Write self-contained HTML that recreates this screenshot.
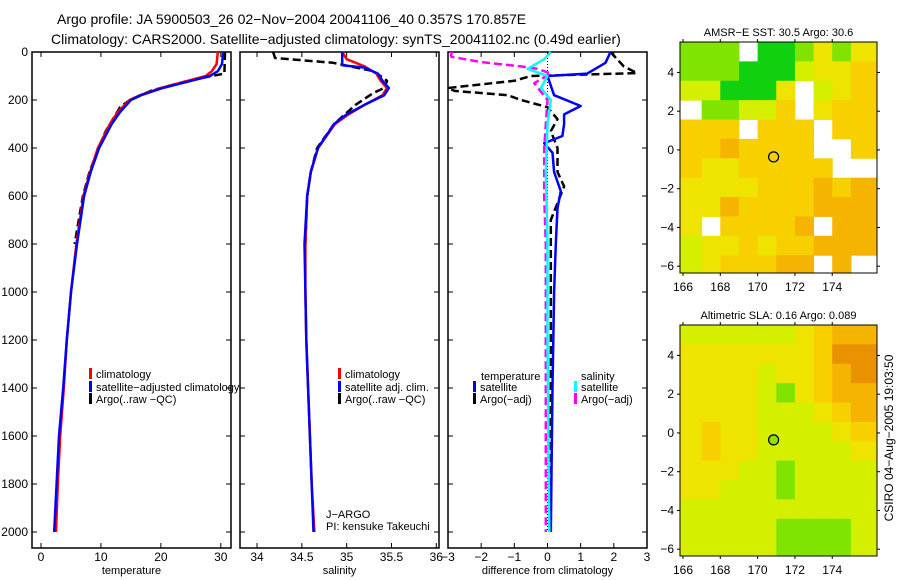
<!DOCTYPE html>
<html><head><meta charset="utf-8"><style>
html,body{margin:0;padding:0;background:#fff;}
svg{display:block;font-family:"Liberation Sans",sans-serif;}
</style></head><body>
<svg id="fig" width="900" height="580" viewBox="0 0 900 580" xmlns="http://www.w3.org/2000/svg">
<text x="57" y="24" font-size="14">Argo profile: JA 5900503_26 02−Nov−2004 20041106_40 0.357S 170.857E</text>
<text x="51" y="44" font-size="14">Climatology: CARS2000. Satellite−adjusted climatology: synTS_20041102.nc (0.49d earlier)</text>
<g id="plots"></g>
<text transform="translate(893,438) rotate(-90)" font-size="12" text-anchor="middle">CSIRO 04−Aug−2005 19:03:50</text>
</svg>
<script>
// ---------- data ----------
const depthTicks=[0,200,400,600,800,1000,1200,1400,1600,1800,2000];
const tempTicks=[0,10,20,30];
const salTicks=[34,34.5,35,35.5,36];
const diffTicks=[-3,-2,-1,0,1,2,3];
const lonTicks=[166,168,170,172,174];
const latTicks=[4,2,0,-2,-4,-6];

const tClimDepth=[0,50,80,100,130,150,180,200,250,300,400,500,600,800,1000,1200,1400,1600,1800,2000];
const tClim=[29.5,29.3,28.5,27.5,23,20,16.5,14.8,12.8,11.5,9.5,8.2,7.1,5.9,5.0,4.3,3.8,3.2,2.8,2.5];
const tSatDepth=[0,50,80,100,130,150,180,200,250,300,400,500,600,800,1000,1200,1400,1600,1800,2000];
const tSat=[30.4,30.2,29.5,28.2,23.5,20.3,16.7,15.0,13.2,11.8,9.7,8.3,7.2,6.0,5.0,4.3,3.7,3.0,2.6,2.2];
const tArgoDepth=[0,90,100,120,160,200,230,280,330,400,500,600,800];
const tArgo=[30.7,30.6,28.5,24.5,18.5,14.8,13.2,12.0,10.8,9.6,8.1,7.0,5.6];

const sClimDepth=[0,30,60,90,120,150,180,220,260,300,400,500,600,800,1000,1200,1400,1600,1800,2000];
const sClim=[34.95,35.0,35.2,35.33,35.38,35.45,35.4,35.2,35.02,34.87,34.68,34.6,34.56,34.54,34.54,34.55,34.57,34.59,34.61,34.64];
const sSatDepth=[0,55,65,90,120,150,180,220,260,300,400,500,600,800,1000,1200,1400,1600,1800,2000];
const sSat=[34.95,34.95,35.2,35.35,35.4,35.47,35.42,35.2,35.0,34.86,34.68,34.6,34.56,34.53,34.54,34.55,34.57,34.59,34.61,34.63];
const sArgoDepth=[0,25,45,80,120,150,170,190,220,260,300,400,500,600,800];
const sArgo=[34.18,34.2,34.85,35.3,35.45,35.42,35.3,35.22,35.1,34.98,34.86,34.67,34.6,34.56,34.54];

const dTSatDepth=[0,45,90,100,180,225,260,300,350,380,420,500,580,650,800,1000,1400,2000];
const dTSat=[1.9,1.75,1.2,0,0.2,1.0,0.5,0.5,0.45,-0.1,0.15,0.2,0.4,0.3,0.25,0.2,0.15,0.1];
const dTArgoDepth=[0,60,88,100,120,150,162,180,200,230,280,330,400,500,560,700,1000,2000];
const dTArgo=[1.9,2.3,2.7,-0.5,-1.0,-3.0,-2.8,-1.2,-0.8,0.0,0.3,0.1,0.3,0.3,0.5,0.1,0.1,0.1];
const dSSatDepth=[0,30,70,100,150,200,300,500,800,1200,2000];
const dSSat=[0.1,-0.1,-0.6,0.0,-0.2,0.1,0.0,-0.05,0.0,0.0,0.05];
const dSArgoDepth=[0,20,42,60,70,90,130,200,400,600,800,1200,2000];
const dSArgo=[-2.9,-2.9,-2.0,-0.8,-0.3,0.1,-0.4,0.0,-0.1,-0.1,-0.05,-0.05,-0.05];

const sstGrid=[
"111w001313","1110002334","220003w234","w11224w344","444w444w44",
"4454444ww4","43344444ww","3333444545","3354444555","3w44445w55",
"2334344555","2344455w5w"];
const slaGrid=[
"2222223455","3333333466","3333233456","3333213455","3333222345",
"3433222234","3433222223","3332212222","3322212222","2222222222",
"2222211112","2222211112"];
const argoLon=170.857, argoLat=-0.357;

// ---------- helpers ----------
const NS="http://www.w3.org/2000/svg";
const root=document.getElementById('plots');
function mk(tag,attrs,parent){const e=document.createElementNS(NS,tag);for(const k in attrs)e.setAttribute(k,attrs[k]);(parent||root).appendChild(e);return e;}
const yTop=52, yPerM=0.24;
function yD(d){return yTop+d*yPerM;}

function panel(x0,x1,vmin,vmax,xticks,label,name,showY){
  const sx=v=>x0+(v-vmin)/(vmax-vmin)*(x1-x0);
  const g=mk('g',{});
  
  
  const b=mk('rect',{x:x0,y:yTop,width:x1-x0,height:496,fill:'none',stroke:'#000','stroke-width':1.5},g);
  
  
  depthTicks.forEach(d=>{
    mk('line',{x1:x0,x2:x0+5,y1:yD(d),y2:yD(d),stroke:'#000'},g);
    mk('line',{x1:x1,x2:x1-5,y1:yD(d),y2:yD(d),stroke:'#000'},g);
    if(showY){const t=mk('text',{x:x0-4,y:yD(d)+4,'font-size':12,'text-anchor':'end'},g);t.textContent=d;
      
      }
  });
  xticks.forEach(v=>{
    const x=sx(v);
    mk('line',{x1:x,x2:x,y1:548,y2:543,stroke:'#000'},g);
    mk('line',{x1:x,x2:x,y1:yTop,y2:yTop+5,stroke:'#000'},g);
    const t=mk('text',{x:x,y:561,'font-size':12,'text-anchor':'middle'},g);
    t.textContent=(v<0?'−'+(-v):v);
    
    
  });
  const t=mk('text',{x:(x0+x1)/2,y:574,'font-size':11,'text-anchor':'middle'},g);
  t.textContent=label;
  
  
  return {sx,g};
}
function line(p,depths,vals,color,dash,name){
  const pts=depths.map((d,i)=>p.sx(vals[i]).toFixed(1)+','+yD(d).toFixed(1)).join(' ');
  const a={points:pts,fill:'none',stroke:color,'stroke-width':2.5,'stroke-linejoin':'round'};
  if(dash)a['stroke-dasharray']='8,4';
  const e=mk('polyline',a,p.g);
  
  
}
function legend(g,x,y,color,text,name){
  const r=mk('rect',{x:x,y:y-8,width:3,height:11,fill:color},g);
  
  
  if(text){const t=mk('text',{x:x+7,y:y+2,'font-size':11},g);t.textContent=text;
    
    }
}
function txt(g,x,y,s,name){const t=mk('text',{x:x,y:y,'font-size':11},g);t.textContent=s;
  
  }

// ---------- temperature ----------
const p1=panel(32,231,-1.5,31.7,tempTicks,'temperature','temperature-panel',true);
line(p1,tArgoDepth,tArgo,'#000',true,'temp-argo-line');
line(p1,tClimDepth,tClim,'#f00',false,'temp-climatology-line');
line(p1,tSatDepth,tSat,'#00f',false,'temp-satellite-line');
legend(p1.g,89,376,'#f00','climatology','legend-climatology');
legend(p1.g,89,389,'#00f','satellite−adjusted climatology','legend-satellite-adjusted');
legend(p1.g,89,401,'#000','Argo(..raw −QC)','legend-argo');

// ---------- salinity ----------
const p2=panel(240,439,33.81,36.03,salTicks,'salinity','salinity-panel',false);
line(p2,sArgoDepth,sArgo,'#000',true,'sal-argo-line');
line(p2,sClimDepth,sClim,'#f00',false,'sal-climatology-line');
line(p2,sSatDepth,sSat,'#00f',false,'sal-satellite-line');
legend(p2.g,338,376,'#f00','climatology','legend-sal-climatology');
legend(p2.g,338,389,'#00f','satellite adj. clim.','legend-sal-satellite');
legend(p2.g,338,401,'#000','Argo(..raw −QC)','legend-sal-argo');
txt(p2.g,326,518,'J−ARGO','float-program');
txt(p2.g,326,530,'PI: kensuke Takeuchi','principal-investigator');

// ---------- difference ----------
const p3=panel(448,647,-3,3,diffTicks,'difference from climatology','difference-panel',false);
mk('line',{x1:p3.sx(0),x2:p3.sx(0),y1:yTop,y2:yD(2000),stroke:'#000','stroke-dasharray':'1,2'},p3.g);
line(p3,dTArgoDepth,dTArgo,'#000',true,'diff-temp-argo-line');
line(p3,dSArgoDepth,dSArgo,'#f0f',true,'diff-sal-argo-line');
line(p3,dTSatDepth,dTSat,'#00f',false,'diff-temp-satellite-line');
line(p3,dSSatDepth,dSSat,'#0ff',false,'diff-sal-satellite-line');
txt(p3.g,481,380,'temperature','legend-temperature-heading');
txt(p3.g,581,380,'salinity','legend-salinity-heading');
legend(p3.g,473,389,'#00f','satellite','legend-diff-temp-satellite');
legend(p3.g,473,401,'#000','Argo(−adj)','legend-diff-temp-argo');
legend(p3.g,574,389,'#0ff','satellite','legend-diff-sal-satellite');
legend(p3.g,574,401,'#f0f','Argo(−adj)','legend-diff-sal-argo');

// ---------- maps ----------
const palette={'0':'#10d010','1':'#80e400','2':'#d4f000','3':'#eee400','4':'#f8d000','5':'#f4b400','6':'#e89200'};
function map(top,grid,title,name,smooth){
  const x0=680,x1=877,lonMin=165.84,lonMax=176.4,latMax=5.57,latMin=-6.35;
  const sx=v=>x0+(v-lonMin)/(lonMax-lonMin)*(x1-x0);
  const sy=v=>top+(latMax-v)/(latMax-latMin)*231;
  const g=mk('g',{});
  
  
  grid.forEach((row,r)=>{
    [...row].forEach((c,ci)=>{
      if(c==='w')return;
      const la=latMax-r, lo=166+ci;
      const xa=ci===0?x0:sx(lo), xb=ci===9?x1:sx(lo+1);
      const ya=sy(la), yb=r===11?top+231:sy(la-1);
      const e=mk('rect',{x:xa,y:ya,width:xb-xa+0.5,height:yb-ya+0.5,fill:palette[c]},g);
      
      
    });
  });
  const f=mk('rect',{x:x0,y:top,width:x1-x0,height:231,fill:'none',stroke:'#000'},g);
  
  
  lonTicks.forEach(v=>{
    mk('line',{x1:sx(v),x2:sx(v),y1:top,y2:top-3,stroke:'#000'},g);
    mk('line',{x1:sx(v),x2:sx(v),y1:top+231,y2:top+234,stroke:'#000'},g);
    const t=mk('text',{x:sx(v),y:top+249,'font-size':12,'text-anchor':'middle'},g);t.textContent=v;
    
    
  });
  latTicks.forEach(v=>{
    mk('line',{x1:x0,x2:x0-3,y1:sy(v),y2:sy(v),stroke:'#000'},g);
    mk('line',{x1:x1,x2:x1+3,y1:sy(v),y2:sy(v),stroke:'#000'},g);
    const t=mk('text',{x:x0-6,y:sy(v)+4,'font-size':12,'text-anchor':'end'},g);t.textContent=(v<0?'−'+(-v):v);
    
    
  });
  const c=mk('circle',{cx:sx(argoLon),cy:sy(argoLat),r:5,fill:smooth?'#90e000':'none',stroke:'#000','stroke-width':1.2},g);
  
  
  const t=mk('text',{x:(x0+x1)/2,y:top-6,'font-size':11,'text-anchor':'middle'},g);t.textContent=title;
  
  
}
map(42,sstGrid,'AMSR−E SST: 30.5 Argo: 30.6','sst-map',false);
map(325,slaGrid,'Altimetric SLA: 0.16 Argo: 0.089','sla-map',true);
</script>
</body></html>
